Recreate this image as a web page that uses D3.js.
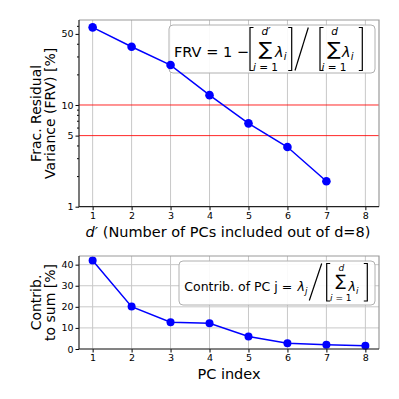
<!DOCTYPE html>
<html>
<head>
<meta charset="utf-8">
<script src="https://cdn.jsdelivr.net/npm/d3@7"></script>
<style>
  body { margin: 0; background: #fff; }
  text { font-family: "DejaVu Sans", sans-serif; fill: #000; }
</style>
</head>
<body>
<div id="chart"></div>
<script>
// data
var pcIndex = [1, 2, 3, 4, 5, 6, 7, 8];
var frvPct = [58.0, 37.4, 24.7, 12.5, 6.6, 3.86, 1.78];          // residual variance for d' = 1..7
var contribPct = [42.0, 20.1, 12.7, 12.2, 5.9, 2.7, 2.0, 1.6];   // contribution of each PC
var frvTicks = [1, 5, 10, 50];
var frvMinor = [2, 3, 4, 6, 7, 8, 9, 20, 30, 40, 60];
var thresholds = [10, 5];
var contribTicks = [0, 10, 20, 30, 40];

var W = 399, H = 399;
var svg = d3.select("#chart").append("svg")
    .attr("width", W).attr("height", H);

var left = 79, right = 379;
var x = d3.scaleLinear().domain([0.65, 8.35]).range([left, right]);

// ---------- top panel ----------
var topT = 20, topB = 206.7;
var yTop = d3.scaleLog().domain([1, 68.5]).range([topB, topT]);

var gTop = svg.append("g");

// vertical grid
gTop.selectAll("line.vgrid").data(pcIndex).enter().append("line")
    .attr("x1", function(d) { return x(d); }).attr("x2", function(d) { return x(d); })
    .attr("y1", topT).attr("y2", topB)
    .attr("stroke", "#c8c8c8").attr("stroke-width", 1);

// threshold lines
gTop.selectAll("line.thr").data(thresholds).enter().append("line")
    .attr("x1", left).attr("x2", right)
    .attr("y1", function(d) { return yTop(d); }).attr("y2", function(d) { return yTop(d); })
    .attr("stroke", "#f00").attr("stroke-opacity", 0.85).attr("stroke-width", 1);

// formula box
function box(g, x0, y0, x1, y1) {
  g.append("rect").attr("x", x0).attr("y", y0)
    .attr("width", x1 - x0).attr("height", y1 - y0)
    .attr("rx", 4).attr("ry", 4)
    .attr("fill", "#fff").attr("fill-opacity", 0.9)
    .attr("stroke", "#b0b0b0").attr("stroke-width", 1);
}
box(gTop, 169, 25, 375, 73);

// series
var lineTop = d3.line().x(function(d, i) { return x(pcIndex[i]); }).y(function(d) { return yTop(d); });
gTop.append("path").datum(frvPct).attr("d", lineTop)
    .attr("fill", "none").attr("stroke", "#0000ff").attr("stroke-width", 1.5);
gTop.selectAll("circle").data(frvPct).enter().append("circle")
    .attr("cx", function(d, i) { return x(pcIndex[i]); })
    .attr("cy", function(d) { return yTop(d); })
    .attr("r", 4.3).attr("fill", "#0000ff");

// axes
var axTop = d3.axisBottom(x).tickValues(pcIndex).tickSize(3.5).tickPadding(2).tickFormat(d3.format("d"));
gTop.append("g").attr("transform", "translate(0," + topB + ")").call(axTop);
var ayTop = d3.axisLeft(yTop).tickValues(frvTicks).tickSize(3.5).tickPadding(2).tickFormat(d3.format("d"));
gTop.append("g").attr("transform", "translate(" + left + ",0)").call(ayTop);
var ayTopMinor = d3.axisLeft(yTop).tickValues(frvMinor).tickSize(2).tickFormat("");
gTop.append("g").attr("transform", "translate(" + left + ",0)").call(ayTopMinor);

// frame
gTop.append("path").attr("d", "M" + left + "," + topT + "H" + right + "V" + topB)
    .attr("fill", "none").attr("stroke", "#9a9a9a").attr("stroke-width", 1.2);
gTop.append("path").attr("d", "M" + left + "," + topT + "V" + topB + "H" + right)
    .attr("fill", "none").attr("stroke", "#222").attr("stroke-width", 1.2);

// labels
var ylab = svg.append("text").attr("transform", "translate(0," + ((topT + topB) / 2) + ") rotate(-90)")
    .attr("text-anchor", "middle").style("font-size", "14px");
ylab.append("tspan").attr("x", 0).attr("y", 41).text("Frac. Residual");
ylab.append("tspan").attr("x", 0).attr("y", 54.5).text("Variance (FRV) [%]");

var xlab = svg.append("text").attr("x", 228).attr("y", 237)
    .attr("text-anchor", "middle").style("font-size", "14.5px");
xlab.append("tspan").style("font-style", "italic").text("d′");
xlab.append("tspan").text(" (Number of PCs included out of d=8)");

// ---------- bottom panel ----------
var botT = 256, botB = 349;
var yBot = d3.scaleLinear().domain([0, 44.1]).range([botB, botT]);
var gBot = svg.append("g");

gBot.selectAll("line.vgrid").data(pcIndex).enter().append("line")
    .attr("x1", function(d) { return x(d); }).attr("x2", function(d) { return x(d); })
    .attr("y1", botT).attr("y2", botB)
    .attr("stroke", "#c8c8c8").attr("stroke-width", 1);
gBot.selectAll("line.hgrid").data(contribTicks).enter().append("line")
    .attr("x1", left).attr("x2", right)
    .attr("y1", function(d) { return yBot(d); }).attr("y2", function(d) { return yBot(d); })
    .attr("stroke", "#c8c8c8").attr("stroke-width", 1);

box(gBot, 179, 261, 375, 305);

var lineBot = d3.line().x(function(d, i) { return x(pcIndex[i]); }).y(function(d) { return yBot(d); });
gBot.append("path").datum(contribPct).attr("d", lineBot)
    .attr("fill", "none").attr("stroke", "#0000ff").attr("stroke-width", 1.5);
gBot.selectAll("circle").data(contribPct).enter().append("circle")
    .attr("cx", function(d, i) { return x(pcIndex[i]); })
    .attr("cy", function(d) { return yBot(d); })
    .attr("r", 4).attr("fill", "#0000ff");

gBot.append("g").attr("transform", "translate(0," + botB + ")")
    .call(d3.axisBottom(x).tickValues(pcIndex).tickSize(3.5).tickPadding(2).tickFormat(d3.format("d")));
gBot.append("g").attr("transform", "translate(" + left + ",0)")
    .call(d3.axisLeft(yBot).tickValues(contribTicks).tickSize(3.5).tickPadding(2));

gBot.append("path").attr("d", "M" + left + "," + botT + "H" + right + "V" + botB)
    .attr("fill", "none").attr("stroke", "#9a9a9a").attr("stroke-width", 1.2);
gBot.append("path").attr("d", "M" + left + "," + botT + "V" + botB + "H" + right)
    .attr("fill", "none").attr("stroke", "#222").attr("stroke-width", 1.2);

var ylab2 = svg.append("text").attr("transform", "translate(0," + ((botT + botB) / 2) + ") rotate(-90)")
    .attr("text-anchor", "middle").style("font-size", "14px");
ylab2.append("tspan").attr("x", 0).attr("y", 41).text("Contrib.");
ylab2.append("tspan").attr("x", 0).attr("y", 54.5).text("to sum [%]");

svg.append("text").attr("x", 229).attr("y", 379).attr("text-anchor", "middle")
    .style("font-size", "14.5px").text("PC index");

// tick label styling
svg.selectAll(".tick text").style("font-size", "9.5px").style("font-family", "DejaVu Sans");
svg.selectAll(".domain").remove();

// ---------- formulas ----------
function txt(g, px, py, s, size, opts) {
  opts = opts || {};
  return g.append("text").attr("x", px).attr("y", py)
    .attr("text-anchor", opts.anchor || "middle")
    .style("font-size", size + "px")
    .style("font-style", opts.italic ? "italic" : "normal")
    .text(s);
}
function bracket(g, bx, y0, y1, dir) {
  g.append("path")
    .attr("d", "M" + (bx + 3.5 * dir) + "," + y0 + "H" + bx + "V" + y1 + "H" + (bx + 3.5 * dir))
    .attr("fill", "none").attr("stroke", "#000").attr("stroke-width", 1.2);
}
function slash(g, x0, y0, x1, y1) {
  g.append("line").attr("x1", x0).attr("y1", y0).attr("x2", x1).attr("y2", y1)
    .attr("stroke", "#000").attr("stroke-width", 1.2);
}
// big sum sign with limits
function sumBlock(g, cx, sigBase, sigSize, sx, supX, supBase, sup, lowBase, subSize) {
  g.append("text")
    .attr("transform", "translate(" + cx + "," + sigBase + ") scale(" + sx + ",1)")
    .attr("text-anchor", "middle").style("font-size", sigSize + "px").text("∑");
  txt(g, supX, supBase, sup, subSize, { italic: true });
  var t = g.append("text").attr("x", cx).attr("y", lowBase).attr("text-anchor", "middle")
    .style("font-size", subSize + "px");
  t.append("tspan").style("font-style", "italic").text("i");
  t.append("tspan").text(" = 1");
}
function lambda(g, lx, base, sub, sz) {
  txt(g, lx, base, "λ", sz, { italic: true, anchor: "start" });
  txt(g, lx + sz * 0.6, base + 3, sub, sz * 0.7, { italic: true, anchor: "start" });
}

var fTop = svg.append("g");
txt(fTop, 174, 57.3, "FRV = 1 − ", 14.5, { anchor: "start" });
bracket(fTop, 250, 27.5, 70.5, 1);
sumBlock(fTop, 265.5, 54.5, 18, 1.12, 266, 35, "d′", 70.5, 10.5);
lambda(fTop, 275, 57.3, "i", 14.5);
bracket(fTop, 291.7, 27.5, 70.5, -1);
slash(fTop, 295, 70.5, 308.3, 27.5);
bracket(fTop, 320, 27.5, 70.5, 1);
sumBlock(fTop, 334, 54.5, 18, 1.12, 334.5, 35, "d", 70.5, 10.5);
lambda(fTop, 342, 57.3, "i", 14.5);
bracket(fTop, 362.3, 27.5, 70.5, -1);

var fBot = svg.append("g");
txt(fBot, 184.3, 291, "Contrib. of PC j =", 12.5, { anchor: "start" });
lambda(fBot, 297.5, 291, "j", 12.5);
slash(fBot, 309.3, 300.5, 321.7, 263.5);
bracket(fBot, 326.7, 263.5, 301, 1);
sumBlock(fBot, 340.8, 286, 15.5, 1.0, 341.3, 271, "d", 301.3, 9);
lambda(fBot, 348.5, 291, "i", 12.5);
bracket(fBot, 367.3, 263.5, 301, -1);
</script>
</body>
</html>
